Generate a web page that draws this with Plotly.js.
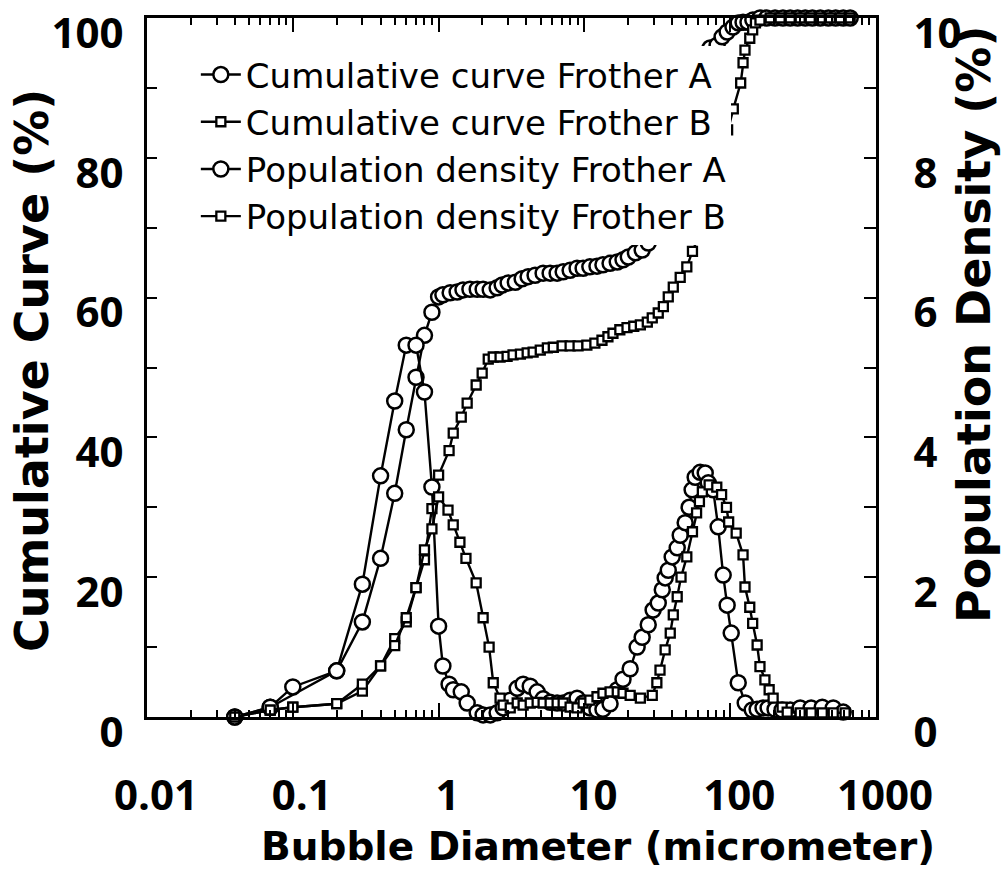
<!DOCTYPE html>
<html>
<head>
<meta charset="utf-8">
<script src="https://cdn.plot.ly/plotly-3.0.1.min.js"></script>
<style>html,body{margin:0;padding:0;background:#fff;}#chart{width:1004px;height:871px;}</style>
</head>
<body>
<div id="chart"></div>
<script>
// Bubble diameter (micrometer) and values
const cumA_x = [0.04,0.07,0.2,0.3,0.4,0.5,0.6,0.7,0.8,0.9,1.0,1.07,1.20,1.34,1.47,1.64,1.84,2.02,2.26,2.52,2.73,3.0,3.36,3.74,4.11,4.59,5.21,5.82,6.50,7.15,7.98,8.91,9.80,10.9,12.2,13.4,15.0,16.8,18.4,20.0,22.4,24.9,27.4,29.6,32.1,34.8,37.6,40.7,44.0,47.5,51.6,55.8,60.5,66.0,72.8,81.3,88.0,95.3,104.5,113.5,122.5,132.4,143,160,178,203,230,258,290,327,366,415,471,529,596,665];
const cumA_y = [0,1.4,6.6,13.6,22.7,32.0,41.1,48.6,54.6,57.9,60.1,60.4,60.7,60.8,61.1,61.2,61.2,61.2,61.1,61.4,61.8,62.1,62.2,62.7,63.0,63.2,63.5,63.5,63.5,63.7,63.9,64.2,64.2,64.4,64.5,64.7,64.9,65.1,65.4,65.8,66.4,66.8,67.8,68.8,70.0,71.5,73.0,75.0,77.5,80.0,83.0,86.0,89.0,92.5,95.7,96.1,97.3,98.0,98.7,99.3,99.4,99.4,99.7,100,100,100,100,100,100,100,100,100,100,100,100,100];

const cumB_x = [0.04,0.07,0.1,0.2,0.3,0.4,0.5,0.6,0.7,0.8,0.9,1.0,1.18,1.26,1.43,1.57,1.81,1.99,2.19,2.37,2.64,2.95,3.24,3.64,4.05,4.45,4.98,5.57,6.12,7.04,7.98,9.05,10.4,11.8,13.2,14.5,15.7,17.5,19.6,21.8,24.2,27.0,29.2,32.1,34.8,37.6,40.7,45.4,50.4,55.1,61.5,67.4,73.5,80.9,88,96,105,118,122.5,126.3,136.2,142.6,149,160,188,220,258,302,354,415,486,569,665];
const cumB_y = [0,1.0,1.4,1.9,3.7,7.3,11.2,13.6,18.5,22.5,29.8,34.6,38.1,40.6,42.9,44.9,47.5,49.2,51.2,51.5,51.5,51.6,51.8,51.9,52.1,52.2,52.5,52.8,52.9,53.1,53.1,53.1,53.2,53.5,53.9,54.4,54.9,55.4,55.7,55.9,56.1,56.5,57.1,57.8,58.7,60.1,61.5,62.9,64.4,66.6,69,71.5,74,77.5,80.5,84,87,90.7,93.6,95.4,97.1,98.3,99.3,99.7,100,100,100,100,100,100,100,100,100];

const denA_x = [0.04,0.07,0.1,0.2,0.3,0.4,0.5,0.6,0.7,0.8,0.9,1.0,1.07,1.18,1.26,1.43,1.57,1.84,2.02,2.26,2.52,2.77,3.10,3.46,3.80,4.25,4.74,5.21,5.82,6.50,7.15,7.98,8.91,9.80,10.9,12.2,13.4,15.0,16.8,18.4,20.6,23.0,24.9,27.4,29.6,32.1,34.2,35.8,37.6,40.0,43.3,45.4,49.1,52.3,54.8,57.5,62.2,67.4,70.7,76.4,82.7,89.5,95.3,101.6,113.5,126.8,141.6,153,168,182,203,227,258,302,359,428,509,596];
const denA_y = [0,0.14,0.43,0.66,1.90,3.45,4.52,5.32,5.32,4.65,3.29,1.30,0.73,0.47,0.39,0.36,0.20,0.06,0.03,0.03,0.06,0.13,0.24,0.41,0.47,0.44,0.36,0.26,0.21,0.20,0.20,0.24,0.27,0.20,0.13,0.10,0.11,0.19,0.39,0.54,0.69,1.0,1.14,1.32,1.53,1.63,1.82,1.99,2.10,2.29,2.42,2.60,2.78,3.0,3.25,3.43,3.5,3.49,3.35,3.25,2.72,2.03,1.60,1.20,0.49,0.2,0.1,0.11,0.13,0.13,0.11,0.1,0.1,0.13,0.13,0.14,0.13,0.07];

const denB_x = [0.04,0.07,0.1,0.2,0.3,0.4,0.5,0.6,0.7,0.8,0.9,1.0,1.16,1.26,1.40,1.54,1.81,2.02,2.22,2.37,2.64,2.77,3.10,3.46,3.80,4.25,4.74,5.21,5.82,6.50,7.15,7.98,8.91,9.80,10.9,12.2,13.4,15.0,16.8,18.4,20.6,24.2,29.2,31.4,33.0,35.8,38.8,40.7,43.3,46.0,50.4,55.1,58.8,61.5,64.4,71.7,80.9,87.3,94.3,97.6,109.9,122.5,126.3,136.2,142.6,153,160,173,185,197,227,246,302,359,428,509,614];
const denB_y = [0,0.1,0.14,0.19,0.47,0.73,1.02,1.42,1.85,2.39,2.69,3.15,2.96,2.75,2.5,2.27,1.92,1.42,1.0,0.49,0.27,0.17,0.13,0.2,0.17,0.2,0.21,0.2,0.2,0.2,0.2,0.14,0.13,0.2,0.24,0.29,0.34,0.36,0.36,0.34,0.31,0.27,0.31,0.49,0.67,0.96,1.2,1.46,1.72,2.0,2.29,2.65,2.92,3.08,3.22,3.32,3.29,3.18,3.0,2.79,2.63,2.32,1.86,1.57,1.34,1.03,0.72,0.53,0.39,0.27,0.14,0.07,0.06,0.06,0.06,0.06,0.06];

const seriesNames = ['Cumulative curve Frother A','Cumulative curve Frother B','Population density Frother A','Population density Frother B'];
const xTickVals = [0.01,0.1,1,10,100,1000];
const xTickText = ['0.01','0.1','1','10','100','1000'];
const yTickVals = [0,20,40,60,80,100];
const y2TickVals = [0,2,4,6,8,10];
const xTitle = 'Bubble Diameter (micrometer)';
const yTitle = 'Cumulative Curve (%)';
const y2Title = 'Population Density (%)';

const xMinor = [];
for (let d = -2; d <= 2; d++) for (let k = 2; k <= 9; k++) xMinor.push(k * Math.pow(10, d));

const circ = {symbol:'circle', size:15, color:'#ffffff', line:{color:'#000', width:2.5}};
const sq = {symbol:'square', size:9, color:'#ffffff', line:{color:'#000', width:2.3}};
const ln = {color:'#000', width:2.4};

const traces = [
  {x:cumA_x, y:cumA_y, name:seriesNames[0], mode:'lines+markers', marker:circ, line:ln, yaxis:'y', cliponaxis:false},
  {x:cumB_x, y:cumB_y, name:seriesNames[1], mode:'lines+markers', marker:sq, line:ln, yaxis:'y', cliponaxis:false},
  {x:denA_x, y:denA_y, name:seriesNames[2], mode:'lines+markers', marker:circ, line:ln, yaxis:'y2', cliponaxis:false},
  {x:denB_x, y:denB_y, name:seriesNames[3], mode:'lines+markers', marker:sq, line:ln, yaxis:'y2', cliponaxis:false}
];

const tickFont = {family:'"Open Sans", sans-serif', size:42, color:'#000', weight:'bold'};
const titleFont = {family:'"DejaVu Sans", sans-serif', size:39, color:'#000', weight:'bold'};
const yTitleFont = {family:'"DejaVu Sans", sans-serif', size:46, color:'#000', weight:'bold'};

const layout = {
  width:1004, height:871,
  margin:{l:147, r:128, t:18, b:154},
  paper_bgcolor:'#fff', plot_bgcolor:'#fff',
  showlegend:true,
  legend:{x:0.067, y:0.96, xanchor:'left', yanchor:'top', bgcolor:'#fff', borderwidth:0,
          font:{family:'"DejaVu Sans", sans-serif', size:34, color:'#000'}, tracegroupgap:0, itemwidth:40},
  xaxis:{type:'log', range:[-2,3], tickmode:'array', tickvals:xTickVals, ticktext:xTickText,
         ticks:'inside', ticklen:14, tickwidth:2, tickcolor:'#000',
         showline:true, linewidth:3, linecolor:'#000', mirror:'ticks', showgrid:false, zeroline:false,
         tickfont:tickFont, ticklabelstandoff:40, ticklabelshift:9, ticklabeloverflow:'allow',
         minor:{tickmode:'array', tickvals:xMinor, ticks:'inside', ticklen:7, tickwidth:2, tickcolor:'#000', showgrid:false}},
  yaxis:{range:[0,100], tickmode:'array', tickvals:yTickVals,
         ticks:'inside', ticklen:10, tickwidth:2, tickcolor:'#000',
         showline:true, linewidth:3, linecolor:'#000', showgrid:false, zeroline:false,
         tickfont:tickFont, ticklabelstandoff:12, ticklabelshift:15, ticklabeloverflow:'allow',
         minor:{dtick:10, ticks:'inside', ticklen:10, tickwidth:2, tickcolor:'#000', showgrid:false}},
  yaxis2:{range:[0,10], overlaying:'y', side:'right', tickmode:'array', tickvals:y2TickVals,
         ticks:'inside', ticklen:12, tickwidth:2, tickcolor:'#000',
         showline:true, linewidth:3, linecolor:'#000', showgrid:false, zeroline:false,
         tickfont:tickFont, ticklabelstandoff:26, ticklabelshift:15, ticklabeloverflow:'allow',
         minor:{dtick:1, ticks:'inside', ticklen:12, tickwidth:2, tickcolor:'#000', showgrid:false}},
  annotations:[
    {text:xTitle, xref:'paper', yref:'paper', x:0.619, y:-0.1847, xanchor:'center', yanchor:'middle', showarrow:false, font:titleFont},
    {text:yTitle, xref:'paper', yref:'paper', x:-0.158, y:0.496, xanchor:'center', yanchor:'middle', textangle:-90, showarrow:false, font:yTitleFont},
    {text:y2Title, xref:'paper', yref:'paper', x:1.1345, y:0.561, xanchor:'center', yanchor:'middle', textangle:-90, showarrow:false, font:yTitleFont}
  ]
};

Plotly.newPlot('chart', traces, layout, {displayModeBar:false, staticPlot:true});
</script>
</body>
</html>
